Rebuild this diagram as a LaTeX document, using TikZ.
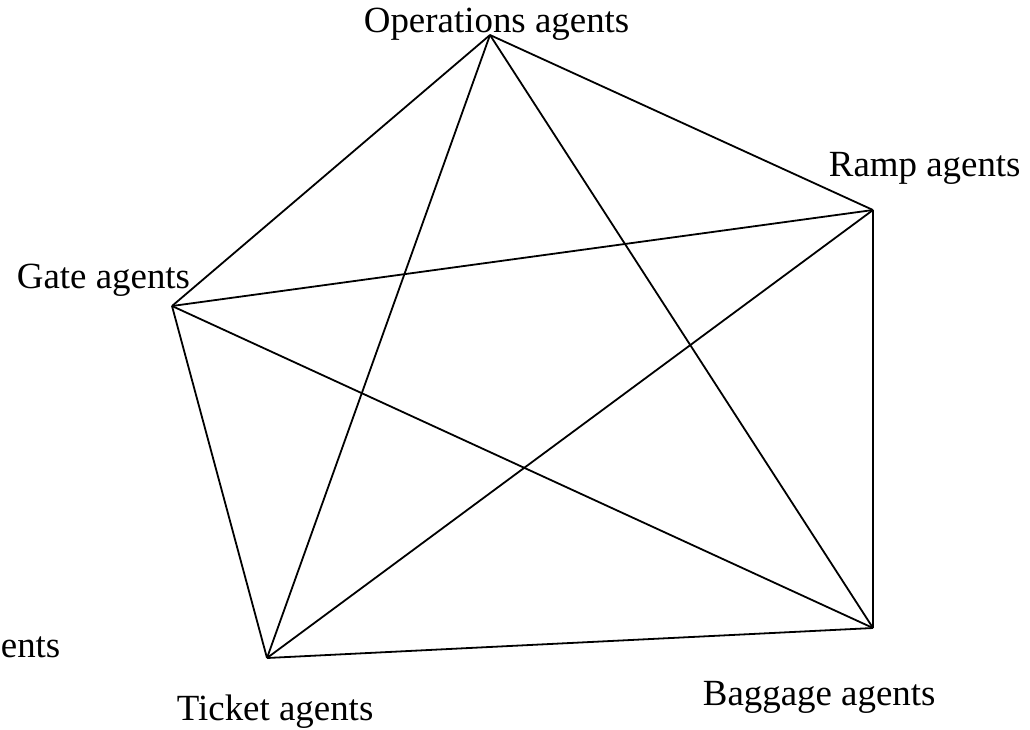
\documentclass[tikz,border=0pt]{standalone}
\usepackage{fontspec}
\setmainfont{Liberation Serif}
\usepackage{tikz}
\tikzset{lbl/.style={inner sep=0pt,anchor=base west,font=\fontsize{36.9}{40}\selectfont}}

\begin{document}
\begin{tikzpicture}[x=1pt,y=-1pt,line width=1.8pt]
    \useasboundingbox (0,0) rectangle (1030,729);
    \coordinate (ops) at (490,35);
    \coordinate (ramp) at (873,210);
    \coordinate (gate) at (172,306);
    \coordinate (tkt) at (267,658);
    \coordinate (bag) at (873,628);

    \node[lbl] (opsl) at (363,32) {Operations agents};
    \node[lbl] (rampl) at (828,176) {Ramp agents};
    \node[lbl] (gatel) at (16,288) {Gate agents};
    \node[lbl] (tktl) at (176,720) {Ticket agents};
    \node[lbl] (bagl) at (702,705) {Baggage agents};
    \node[lbl] (cutl) at (0,657) {ents};

    \draw (ops) -- (ramp);
    \draw (ops) -- (gate);
    \draw (ops) -- (tkt);
    \draw (ops) -- (bag);
    \draw (ramp) -- (gate);
    \draw (ramp) -- (tkt);
    \draw (ramp) -- (bag);
    \draw (gate) -- (tkt);
    \draw (gate) -- (bag);
    \draw (tkt) -- (bag);
\end{tikzpicture}
\end{document}
